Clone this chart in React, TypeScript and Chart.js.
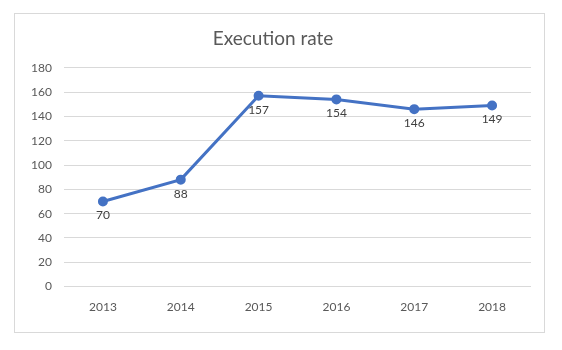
import React, { useEffect, useRef } from "react";
import { Chart, registerables } from "chart.js";

Chart.register(...registerables);

const years = ["2013", "2014", "2015", "2016", "2017", "2018"];
const executionRate = [70, 88, 157, 154, 146, 149];
const yMin = 0;
const yMax = 180;
const yStep = 20;
const titleText = "Execution rate";

const FONT = "Lato, 'Open Sans', sans-serif";

const valueLabels = {
  id: "valueLabels",
  afterDatasetsDraw(chart: any) {
    const ctx = chart.ctx;
    const meta = chart.getDatasetMeta(0);
    const data = chart.data.datasets[0].data;
    ctx.save();
    ctx.font = `12px ${FONT}`;
    ctx.fillStyle = "#404040";
    ctx.textAlign = "center";
    ctx.textBaseline = "middle";
    meta.data.forEach((pt: any, i: number) => {
      ctx.fillText(String(data[i]), pt.x, pt.y + 14);
    });
    ctx.restore();
  },
};

export default function App() {
  const ref = useRef<HTMLCanvasElement | null>(null);
  useEffect(() => {
    if (!ref.current) return;
    const chart = new Chart(ref.current, {
      type: "line",
      data: {
        labels: years,
        datasets: [
          {
            data: executionRate,
            borderColor: "#4472C4",
            backgroundColor: "#4472C4",
            borderWidth: 3,
            pointRadius: 3.5,
            pointBackgroundColor: "#4472C4",
            pointBorderColor: "#4472C4",
            tension: 0,
          },
        ],
      },
      options: {
        responsive: false,
        animation: false,
        maintainAspectRatio: false,
        layout: { padding: { left: 0, right: 13, top: 0, bottom: 5 } },
        plugins: {
          legend: { display: false },
          tooltip: { enabled: false },
          title: {
            display: true,
            text: titleText,
            color: "#595959",
            font: { family: FONT, size: 19, weight: "normal" },
            padding: { top: 13, bottom: 18 },
          },
        },
        scales: {
          x: {
            offset: true,
            grid: { display: false, drawTicks: false },
            border: { display: false },
            ticks: {
              color: "#595959",
              font: { family: FONT, size: 12 },
              padding: 13,
              maxRotation: 0,
            },
          },
          y: {
            min: yMin,
            max: yMax,
            grid: { color: "#d9d9d9", drawTicks: false },
            border: { display: false },
            ticks: {
              stepSize: yStep,
              color: "#595959",
              font: { family: FONT, size: 12 },
              padding: 12,
            },
            afterFit(scale: any) {
              scale.width = 49;
            },
          },
        },
      },
      plugins: [valueLabels],
    });
    return () => chart.destroy();
  }, []);

  return (
    <div
      style={{
        position: "absolute",
        left: 14,
        top: 13,
        width: 531,
        height: 320,
        border: "1px solid #d9d9d9",
        boxSizing: "border-box",
        background: "#fff",
      }}
    >
      <canvas ref={ref} width={529} height={318} style={{ display: "block" }} />
    </div>
  );
}
